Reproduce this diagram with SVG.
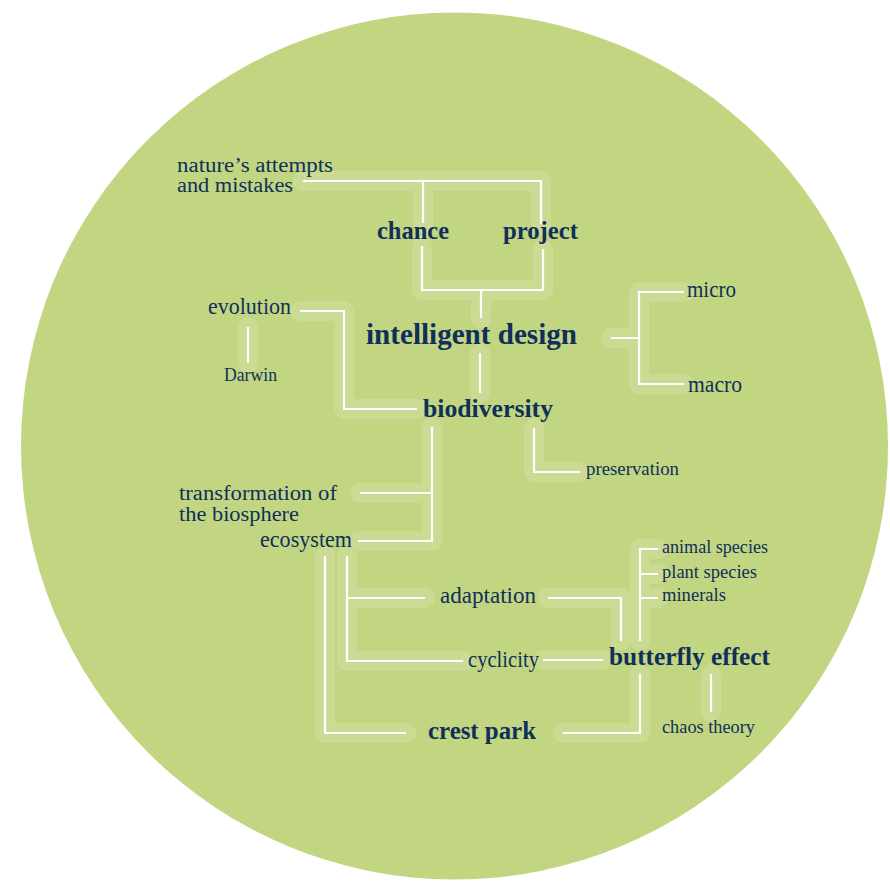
<svg xmlns="http://www.w3.org/2000/svg" width="890" height="881" viewBox="0 0 890 881">
<style>
  .halo { fill: none; stroke: #cbdb94; stroke-width: 20; stroke-linecap: round; stroke-linejoin: round; }
  .line { fill: none; stroke: #ffffff; stroke-width: 2.2; stroke-linecap: butt; stroke-linejoin: miter; }
  text { font-family: "Liberation Serif", "Times New Roman", serif; fill: #102f5a; }
  .r { font-size: 22.5px; }
  .r2 { font-size: 20.5px; }
  .s { font-size: 18.3px; }
  .b { font-weight: bold; }
</style>
<defs>
  <g id="paths">
    <path d="M303 181 H541 V224 M423 181 V223"/>
    <path d="M422 246 V290 H543 V249 M481 290 V318"/>
    <path d="M480 353 V393"/>
    <path d="M300 311 H344 V409 H417"/>
    <path d="M248 327 V363"/>
    <path d="M611 338 H639 M684 292 H639 V384 H684"/>
    <path d="M534 428 V472 H580"/>
    <path d="M432 427 V541 H358 M360 493 H432"/>
    <path d="M325 556 V733 H406"/>
    <path d="M347 556 V661 H463 M347 598 H425"/>
    <path d="M548 598 H621 V641"/>
    <path d="M543 660 H603"/>
    <path d="M640 641 V549 H658 M640 574 H658 M640 598 H658"/>
    <path d="M640 674 V733 H563"/>
    <path d="M711 674 V712"/>
  </g>
</defs>
<circle cx="454.5" cy="446" r="433.5" fill="#c2d682"/>
<g id="connectors">
  <use href="#paths" class="halo"/>
  <use href="#paths" class="line"/>
</g>
<g id="node-natures-attempts">
  <text class="r2" x="177" y="172" textLength="156" lengthAdjust="spacingAndGlyphs">nature’s attempts</text>
  <text class="r2" x="177" y="192" textLength="116" lengthAdjust="spacingAndGlyphs">and mistakes</text>
</g>
<g id="node-chance"><text class="b" font-size="24.5" x="377" y="239" textLength="72" lengthAdjust="spacingAndGlyphs">chance</text></g>
<g id="node-project"><text class="b" font-size="24.5" x="503" y="239" textLength="75" lengthAdjust="spacingAndGlyphs">project</text></g>
<g id="node-intelligent-design"><text class="b" font-size="29" x="366" y="344" textLength="211" lengthAdjust="spacingAndGlyphs">intelligent design</text></g>
<g id="node-evolution"><text class="r" x="208" y="314" textLength="83" lengthAdjust="spacingAndGlyphs">evolution</text></g>
<g id="node-darwin"><text class="s" x="224" y="381" textLength="53" lengthAdjust="spacingAndGlyphs">Darwin</text></g>
<g id="node-micro"><text class="r" x="687" y="297" textLength="49" lengthAdjust="spacingAndGlyphs">micro</text></g>
<g id="node-macro"><text class="r" x="688" y="392" textLength="54" lengthAdjust="spacingAndGlyphs">macro</text></g>
<g id="node-biodiversity"><text class="b" font-size="25.7" x="423" y="417" textLength="130" lengthAdjust="spacingAndGlyphs">biodiversity</text></g>
<g id="node-preservation"><text class="s" x="586" y="475" textLength="93" lengthAdjust="spacingAndGlyphs">preservation</text></g>
<g id="node-transformation">
  <text class="r2" x="179" y="500" textLength="158" lengthAdjust="spacingAndGlyphs">transformation of</text>
  <text class="r2" x="179" y="521" textLength="120" lengthAdjust="spacingAndGlyphs">the biosphere</text>
</g>
<g id="node-ecosystem"><text class="r" x="260" y="547" textLength="92" lengthAdjust="spacingAndGlyphs">ecosystem</text></g>
<g id="node-adaptation"><text class="r" x="440" y="603" textLength="96" lengthAdjust="spacingAndGlyphs">adaptation</text></g>
<g id="node-cyclicity"><text class="r" x="468" y="667" textLength="71" lengthAdjust="spacingAndGlyphs">cyclicity</text></g>
<g id="node-butterfly-effect"><text class="b" font-size="25.3" x="609" y="665" textLength="161" lengthAdjust="spacingAndGlyphs">butterfly effect</text></g>
<g id="node-animal-species"><text class="s" x="662" y="553" textLength="106" lengthAdjust="spacingAndGlyphs">animal species</text></g>
<g id="node-plant-species"><text class="s" x="662" y="578" textLength="95" lengthAdjust="spacingAndGlyphs">plant species</text></g>
<g id="node-minerals"><text class="s" x="662" y="601" textLength="64" lengthAdjust="spacingAndGlyphs">minerals</text></g>
<g id="node-chaos-theory"><text class="s" x="662" y="733" textLength="93" lengthAdjust="spacingAndGlyphs">chaos theory</text></g>
<g id="node-crest-park"><text class="b" font-size="25" x="428" y="739" textLength="108" lengthAdjust="spacingAndGlyphs">crest park</text></g>
</svg>
